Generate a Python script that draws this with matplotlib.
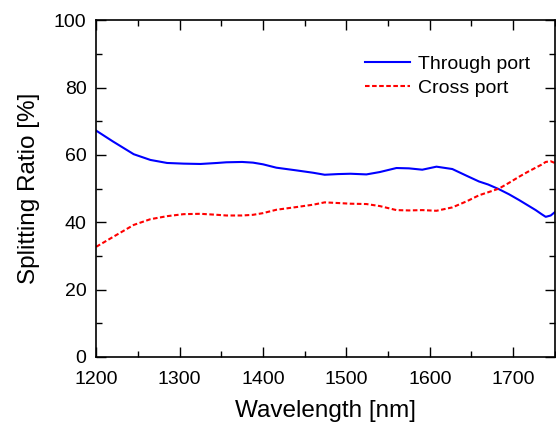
import matplotlib as mpl
mpl.use("Agg")
import matplotlib.pyplot as plt
from matplotlib.ticker import MultipleLocator

# Values
wavelength = [1200, 1220, 1245, 1265, 1285, 1305, 1325, 1345, 1356, 1375, 1388,
              1400, 1416, 1440, 1460, 1474, 1490, 1505, 1524, 1540, 1560, 1575,
              1591, 1608, 1627, 1645, 1659, 1670, 1683, 1695, 1707, 1717, 1727,
              1734, 1739, 1745, 1750]
through = [67.2, 64.0, 60.2, 58.5, 57.6, 57.4, 57.3, 57.6, 57.8, 57.9, 57.7,
           57.2, 56.2, 55.4, 54.7, 54.1, 54.3, 54.4, 54.2, 54.9, 56.1, 56.0,
           55.6, 56.5, 55.8, 53.7, 52.1, 51.2, 49.8, 48.3, 46.6, 45.1, 43.6,
           42.4, 41.6, 42.0, 43.0]
cross = [32.7, 35.6, 39.2, 40.9, 41.8, 42.4, 42.5, 42.2, 42.0, 42.0, 42.2,
         42.7, 43.7, 44.5, 45.2, 45.9, 45.7, 45.5, 45.4, 44.8, 43.6, 43.5,
         43.6, 43.4, 44.4, 46.3, 48.0, 48.9, 50.0, 51.7, 53.5, 54.9, 56.2,
         57.1, 57.9, 58.1, 57.6]

plt.rcParams["font.family"] = ["Liberation Sans", "DejaVu Sans"]

fig = plt.figure(figsize=(5.56, 4.30), dpi=100)
ax = fig.add_axes([0.173, 0.170, 0.825, 0.783])

ax.plot(wavelength, through, color="#0000ff", lw=1.5, label="Through port")
ax.plot(wavelength, cross, color="#ff0000", lw=1.5, ls=(0, (2.2, 1.2)),
        label="Cross port")

ax.set_xlim(1200, 1750)
ax.set_ylim(0, 100)
ax.xaxis.set_major_locator(MultipleLocator(100))
ax.xaxis.set_minor_locator(MultipleLocator(50))
ax.yaxis.set_major_locator(MultipleLocator(20))
ax.yaxis.set_minor_locator(MultipleLocator(10))
ax.tick_params(which="both", direction="in", top=True, right=True,
               labelsize=14, width=1.0)
ax.tick_params(which="major", length=7)
ax.tick_params(which="minor", length=4)
ax.tick_params(axis="y", pad=7)
ax.tick_params(axis="x", pad=10)
for side in ax.spines.values():
    side.set_linewidth(1.2)

ax.set_xlabel("Wavelength [nm]", fontsize=17.5, labelpad=9)
ax.set_ylabel("Splitting Ratio [%]", fontsize=17.5, labelpad=10)

ax.legend(loc="upper right", bbox_to_anchor=(0.985, 0.948), frameon=False,
          fontsize=14, handlelength=2.3, handletextpad=0.45,
          labelspacing=0.35)

fig.savefig("out.png", dpi=100)
